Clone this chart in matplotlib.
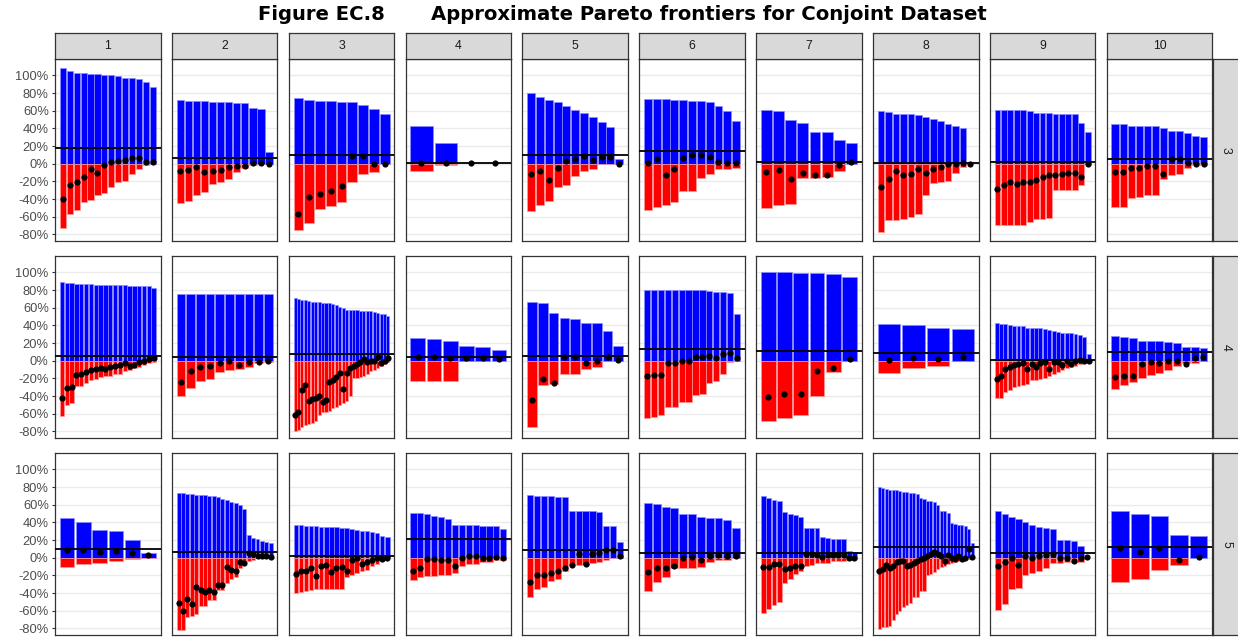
import matplotlib.pyplot as plt
import numpy as np

# facet labels
COL_LABELS = [str(i) for i in range(1, 11)]
ROW_LABELS = ['3', '4', '5']
Y_TICKS = [-80, -60, -40, -20, 0, 20, 40, 60, 80, 100]

# ---- row "3" ----
POS_3 = [
    [108, 105, 103, 103, 102, 101, 100.5, 100, 99, 97.5, 97, 96, 93, 87],
    [71.6, 71.5, 71, 70.5, 70, 70, 69.5, 69, 69, 63, 62, 13],
    [73.9, 72.3, 71.2, 70.8, 70, 69.3, 65.9, 61.7, 56.8],
    [42.8, 23, 0, 0],
    [80, 75.8, 72.3, 69.7, 65.2, 61, 57.2, 53, 47.3, 41.7, 5.3],
    [72.7, 72.7, 72.7, 72.3, 71.6, 71.2, 70.8, 70, 65.5, 60.2, 48.5],
    [60.7, 59.9, 49.8, 46, 35.5, 35.5, 26.3, 23.3],
    [59.8, 58.3, 56.8, 56.4, 56.4, 55.3, 52.3, 50.8, 48.5, 45, 42.4, 40.5, 0],
    [61, 61, 61, 61, 60.6, 59.8, 57.6, 57.6, 57.6, 56.4, 56.4, 56.4, 56.4, 46.2, 36],
    [44.7, 44.7, 42.8, 42.8, 42.4, 42.4, 40.2, 36.7, 36.7, 34.5, 31, 30],
]
NEG_3 = [
    [-72.7, -57, -52.6, -43.6, -41, -35, -33, -26, -20.5, -19.3, -11.7, -6.4, -1, -0.5],
    [-45, -42.4, -36, -32, -22.7, -20.8, -17.8, -9.8, -5.3, -1, -0.5, 0],
    [-75.4, -66.7, -50.8, -48, -42.8, -20.8, -11.7, -9.5, -0.5],
    [-8.7, -1, 0, 0],
    [-53.4, -47, -42.4, -26.5, -24.2, -14, -8.3, -5.7, -0.8, -0.8, 0],
    [-52.3, -48.9, -46.6, -43.2, -31.4, -30.7, -16.7, -12, -6.4, -5.7, -5.3],
    [-50, -47, -45.3, -16.3, -16.3, -15.6, -8.3, 0],
    [-77.3, -63.6, -63.6, -62.5, -60.2, -57.2, -36, -22, -20.5, -19.3, -11, -3.4, 0],
    [-69.7, -69.7, -69.7, -69.7, -69, -66, -63, -63, -62, -30.3, -30.3, -30.3, -30.3, -23.9, 0],
    [-49.2, -49.2, -38.6, -37.9, -36, -35.2, -17.4, -12.5, -11.7, -4.5, -1.5, -1.5],
]
DOT_3 = [
    [-40, -24, -20.5, -15, -6.4, -10, -2, 2.3, 3, 4.5, 6.4, 7, 2.3, 2.3],
    [-8.7, -6.8, -4.2, -9.8, -8.3, -6.8, -4.2, -3, -2.3, 0.8, 0.4, 0],
    [-56.4, -37.5, -34, -31, -25, 8.7, 8.7, -0.4, 0],
    [0.5, 0.5, 0.5, 0.5],
    [-11.7, -8.7, -18, -5.3, 3, 4.9, 8.7, 4.5, 8, 8, 0],
    [1.1, 5.3, -12.5, -6.4, 6.8, 9.8, 9.8, 7.6, 2.3, 0.4, 0.4],
    [-9.5, -7.5, -17, -10, -13.3, -13.3, -1.1, 1.4],
    [-26.5, -17, -8, -13.3, -11.4, -6, -10.2, -5.7, -3.4, -0.8, -0.4, 0.4, 0],
    [-28.8, -24.2, -20.8, -23.5, -20.5, -20.5, -18.2, -15.2, -12.9, -12.9, -11.4, -10.2, -10.2, -15.2, 0],
    [-9, -9, -4.5, -4.5, -2.7, -2.7, -11.4, 5.3, 5.3, 0.8, -0.8, -0.8],
]
HLINE_3 = [18.2, 6.4, 10.2, 0.8, 10.2, 14, 1.8, 0.4, 1.5, 5.3]

# ---- row "4" ----
POS_4 = [
    [89.3, 88, 87.5, 87, 87, 86.5, 86.5, 86, 86, 86, 85.5, 85.5, 85.5, 85.5, 85, 85, 85, 85, 85, 82.4],
    [75.6, 75.6, 75.6, 75.6, 75.6, 75.6, 75.6, 75.5, 75.5, 75.5],
    [71, 70, 69, 68.5, 68, 67, 66.5, 66, 65.5, 65.5, 65, 64.5, 63, 61, 59.5, 57.5, 57.5, 57, 57,
     56.5, 56.5, 56, 56, 55.5, 54, 53, 52.5, 51],
    [25.6, 24.8, 21.8, 16.4, 15.3, 12.2],
    [66, 65.3, 53.8, 48, 47.3, 42.7, 42.4, 33.2, 16.4],
    [80.2, 80.2, 80.2, 80, 80, 80, 79.8, 79.8, 79.8, 78.6, 77.9, 77.9, 77.1, 53.4],
    [100.3, 100, 99.7, 99.5, 98.3, 95],
    [41.8, 40.6, 37.2, 36.4],
    [42.4, 42, 41.2, 40.1, 39.7, 38.9, 38.9, 37, 36.6, 36.6, 36.6, 35.9, 34.7, 34, 32.8, 31.3,
     30.9, 30.9, 30.2, 29.4, 27.1, 8],
    [27.5, 26.3, 25.6, 22.5, 21.8, 21.8, 21.4, 19.8, 15.6, 15.6, 14.5],
]
NEG_4 = [
    [-62.6, -50, -48, -29, -29, -25, -21.4, -20.6, -18.3, -17.6, -16.8, -15.6, -14.5, -12.2,
     -10.7, -8.8, -6.9, -5.3, -3, -1.5],
    [-39.7, -31.3, -22.5, -20.6, -12.6, -10.7, -9.2, -7.6, -3, -1.5],
    [-80, -78, -75, -73, -72, -70, -68, -61, -58, -58, -56.5, -54, -52, -50, -48, -46, -40, -20,
     -20, -18, -17, -15, -12, -10, -8, -6, -4, -2],
    [-23.3, -23.3, -22.9, 0, 0, 0],
    [-75.2, -27.5, -26.7, -14.9, -14.9, -9.9, -6.9, 0, 0],
    [-65, -63.5, -62, -52.8, -52, -47.3, -46.6, -38.5, -37.8, -25.2, -23.3, -14.5, -1.9, 0],
    [-67.7, -64.4, -61.8, -40.2, -12.5, 0],
    [-13.4, -8, -5.7, 0],
    [-42.7, -42, -35.9, -32.8, -29.8, -28.2, -27.5, -26, -22.1, -21.4, -20.6, -19.1, -17.6,
     -14.5, -13, -10.7, -8.4, -6.9, -6.1, -3.8, -2.3, -0.8],
    [-32.4, -27.1, -24, -19.5, -16.4, -13.4, -11, -5.7, -2.7, -2.7, 0],
]
DOT_4 = [
    [-42.7, -31, -29.8, -16, -14.5, -12.6, -11, -9.2, -8.4, -9.2, -7.6, -6.1, -4.6, -3, -6.1,
     -4.6, -1.5, 0, 1.5, 3.4],
    [-23.7, -11.5, -7.6, -5.7, -2.3, 0, -4.6, -1.9, -1.5, 0],
    [-61, -58, -32.8, -27.5, -45.8, -43.5, -42.7, -39.7, -47.3, -44.3, -23.7, -21.4, -19, -13.7,
     -32, -13.7, -8, -6.1, -4.2, -1.5, 2.3, -1.5, -0.8, -0.8, 4.6, -2.3, 0, 3],
    [3.8, 3.8, 3.4, 2.7, 2.7, 1.9],
    [-44.3, -20.2, -25.2, 4.2, 4.2, -2.3, -0.8, 3.8, 1.1],
    [-17.2, -16.4, -16, -2.7, -3, -0.4, -0.4, 4.6, 4.6, 5, 2.7, 7.3, 8.8, 2.7],
    [-40.6, -37.7, -37.7, -11.7, -7.8, 1.9],
    [1.1, 2.7, 2.3, 3.8],
    [-20.6, -17.6, -9.2, -6.9, -5.3, -3.8, -3, -9.2, -3.8, -6.9, -3, -1.5, -9.9, -1.5, -1.5,
     -5.3, 0, -3.8, -0.8, 0.8, 0, 0],
    [-18.7, -17.6, -17.6, -3.4, -1.9, -2.7, -0.8, 0, -4.2, 3, 4.2],
]
HLINE_4 = [5.3, 4.2, 8, 3.8, 5.7, 12.7, 11.4, 8.8, 1.1, 9.5]

# ---- row "5" ----
POS_5 = [
    [45.4, 40, 30.9, 30.2, 20.2, 5],
    [72.9, 72.9, 72.5, 72, 71.5, 71, 70.5, 70, 69.5, 68.5, 67, 65.3, 63, 61.5, 60, 55, 26, 22,
     21.5, 18.5, 17.5, 17],
    [37.4, 37, 36.3, 35.9, 35.5, 35.1, 35.1, 34.7, 34.4, 33.6, 33.2, 32, 31.3, 30.5, 29.8, 29,
     27.5, 24.4, 23.7],
    [50.8, 50.8, 49.6, 47.3, 45.8, 43.5, 37.4, 37.4, 37.4, 37.4, 35.9, 35.9, 35.9, 32],
    [71, 70.2, 69.5, 69.5, 68.7, 68.3, 52.7, 52.7, 52.3, 52.3, 51.5, 35.9, 35.5, 18.3],
    [62.2, 61, 57.3, 56.5, 49.2, 48.9, 46.6, 44.7, 44.7, 42.4, 33.6],
    [69.4, 67.8, 65.2, 64, 51.8, 50, 48, 46.3, 33.7, 33.7, 33.7, 23.6, 22.3, 20.6, 20.6, 20.6,
     7.2, 6.3],
    [79.8, 78.6, 77.9, 77.1, 77.1, 76.7, 75.6, 74.8, 74, 73.3, 72.9, 72.1, 67.6, 66.4, 64.5,
     63.7, 63, 60, 53, 52.3, 51.1, 39, 38.2, 37.4, 36.6, 35.9, 32, 17],
    [52.7, 48.9, 46.6, 43.5, 40.5, 36.6, 35.1, 34, 32.4, 19.8, 19.5, 18.7, 13.4, 0],
    [53, 48.9, 47.7, 26, 24.4],
]
NEG_5 = [
    [-11, -7.6, -6.1, -3.8, -1.5, -0.8],
    [-81.7, -81.7, -67, -66.4, -64, -54.2, -54.2, -48, -48, -36.6, -36, -29, -23.7, -21.4, -11.5,
     -7.6, -3.8, -2.3, -0.8, -0.8, -0.5, -0.5],
    [-39.7, -38.9, -37.4, -36.6, -35.9, -35.9, -35.9, -35.1, -35.1, -35.1, -21.4, -19.8, -17.6,
     -15.3, -13.7, -9.9, -7.6, -3, -0.8],
    [-25.2, -22.1, -20.6, -20.6, -19.5, -19.5, -16.8, -9.9, -6.9, -6.9, -4.6, -4.6, -2.3, -2.3],
    [-44.3, -35.1, -32.8, -26, -24.4, -15.3, -8.4, -8.4, -8.4, -6.1, -5.3, -2.3, -0.8, 0],
    [-37.4, -27.5, -21.4, -12.2, -12.2, -12.2, -10.7, -5.3, -2.3, -2.3, -0.8],
    [-62.7, -58.5, -53.9, -49.7, -28.2, -24, -19, -15.6, -9.3, -8, -6.3, -6, -5.5, -4.2, -3.8,
     -3.4, -2.9, -1.7],
    [-81, -79, -78, -77, -70, -63.4, -60, -56, -54, -51, -44, -44, -37.4, -37.4, -20, -19, -16,
     -13, -11, -9, -7, -6, -5, -4, -3, -2, -1.5, -0.5],
    [-58.8, -51.9, -35.1, -34.4, -19.1, -17.6, -14.5, -12.2, -6.1, -6.1, -5.3, -4.6, -5.3, 0],
    [-27.1, -24, -13.7, -8.8, 0],
]
DOT_5 = [
    [8.4, 8.8, 6.9, 8, 5.3, 2.7],
    [-51.5, -60.3, -46.6, -51.9, -32.8, -36.6, -39.3, -36.6, -38.9, -30.5, -30.5, -10.7, -13.7,
     -15.3, -5.3, -6.1, 5.3, 4.6, 2.3, 1.5, 1.5, 0.8],
    [-18, -14.5, -15.3, -12.2, -20.6, -9.9, -8.4, -16, -12.2, -10.7, -14.5, -2.3, -0.8, -7.6,
     -4.6, -2.3, 0, -1.5, 0],
    [-14.5, -12.2, -1.5, -1.5, -3, -3, -9.9, -0.8, 1.5, 1.5, -0.8, -0.8, 1.1, 0],
    [-27.1, -19.8, -19.1, -17.2, -15.3, -11.8, -8.4, 4.6, -7.3, 4.6, 5, 8.4, 8.8, 1.5],
    [-16.4, -12.2, -12.2, -9.2, -0.8, 0.8, -3, 1.5, 3.4, 2.3, 2.3],
    [-10, -10, -7.2, -7.2, -12.6, -12.2, -9.3, -9.7, 4.2, 4.2, 3.4, 1.3, 2.5, 2.5, 2.5, 2.5, 0, -0.8],
    [-15.3, -13, -8, -12, -9, -5.3, -3.8, -3.8, -9.9, -8, -6.1, -3.8, -1.5, 0, 2.3, 3.8, 6.9,
     4.6, 1.5, -4.2, 2.7, -0.8, -2, 1.5, -1, -0.8, 9.5, 0.8],
    [-9.2, -5.3, -0.8, -8.4, 1.5, 0, 1.5, 3, 4.6, 0, 0, -3.8, -0.8, 0.8],
    [10.7, 6.1, 10.7, -3, 0.8],
]
HLINE_5 = [9.5, 6.1, 2.3, 20.6, 9.2, 5.3, 5, 12.2, 5.3, 12.2]

ROWS = [
    (POS_3, NEG_3, DOT_3, HLINE_3),
    (POS_4, NEG_4, DOT_4, HLINE_4),
    (POS_5, NEG_5, DOT_5, HLINE_5),
]

W, H = 1238, 638
fig = plt.figure(figsize=(W / 100, H / 100), dpi=100)


def px_axes(x, y, w, h):
    # pixel box (top-left origin) -> figure fraction
    return fig.add_axes([x / W, 1 - (y + h) / H, w / W, h / H])


PANEL_X0, PANEL_DX, PANEL_W = 55, 116.85, 105.6
PANEL_Y0, PANEL_DY, PANEL_H = 59, 197, 182
BORDER = '#333333'

for r, (pos_row, neg_row, dot_row, hl_row) in enumerate(ROWS):
    for c in range(10):
        ax = px_axes(PANEL_X0 + c * PANEL_DX, PANEL_Y0 + r * PANEL_DY, PANEL_W, PANEL_H)
        x = np.arange(1, len(pos_row[c]) + 1)
        pos = np.array(pos_row[c], dtype=float)
        neg = np.array(neg_row[c], dtype=float)
        # no outline on empty bars
        ax.bar(x, pos, width=0.9, color='#0000FF',
               edgecolor=[(0.55, 0.55, 1.0, 1.0 if v != 0 else 0.0) for v in pos],
               linewidth=0.5, zorder=2)
        ax.bar(x, neg, width=0.9, color='#FF0000',
               edgecolor=[(1.0, 0.6, 0.6, 1.0 if v != 0 else 0.0) for v in neg],
               linewidth=0.5, zorder=2)
        ax.axhline(hl_row[c], color='black', linewidth=1.3, zorder=3)
        ax.scatter(x, dot_row[c], s=20, color='black', linewidths=0, zorder=4)

        ax.margins(x=0.05)
        ax.set_ylim(-87.5, 118.5)
        ax.set_xticks([])
        ax.set_yticks(Y_TICKS)
        ax.grid(axis='y', color='#EBEBEB', linewidth=1.0)
        ax.set_axisbelow(True)
        for s in ax.spines.values():
            s.set_color(BORDER)
            s.set_linewidth(0.9)
        if c == 0:
            ax.set_yticklabels([f'{t}%' for t in Y_TICKS], fontsize=9.3,
                               color='#4D4D4D', family='Liberation Sans')
            ax.tick_params(axis='y', length=2.5, width=0.8, color=BORDER, pad=2)
        else:
            ax.set_yticklabels([])
            ax.tick_params(axis='y', length=0)

        # top strips
        if r == 0:
            sax = px_axes(PANEL_X0 + c * PANEL_DX, 33, PANEL_W, 26)
            sax.set_facecolor('#D9D9D9')
            sax.set_xticks([])
            sax.set_yticks([])
            for s in sax.spines.values():
                s.set_color(BORDER)
                s.set_linewidth(0.9)
            sax.text(0.5, 0.5, COL_LABELS[c], ha='center', va='center', fontsize=8.8,
                     color='#1A1A1A', family='Liberation Sans', transform=sax.transAxes)

    # right strips
    rax = px_axes(1213, PANEL_Y0 + r * PANEL_DY, 26, PANEL_H)
    rax.set_facecolor('#D9D9D9')
    rax.set_xticks([])
    rax.set_yticks([])
    for s in rax.spines.values():
        s.set_color(BORDER)
        s.set_linewidth(0.9)
    rax.text(0.5, 0.5, ROW_LABELS[r], ha='center', va='center', rotation=-90, fontsize=8.8,
             color='#1A1A1A', family='Liberation Sans', transform=rax.transAxes)

fig.text(385 / W, 1 - 14 / H, 'Figure EC.8', ha='right', va='center', fontsize=14.1,
         fontweight='bold', family='DejaVu Sans')
fig.text(431 / W, 1 - 14 / H, 'Approximate Pareto frontiers for Conjoint Dataset', ha='left',
         va='center', fontsize=14.1, fontweight='bold', family='DejaVu Sans')

fig.savefig('out.png', dpi=100)
